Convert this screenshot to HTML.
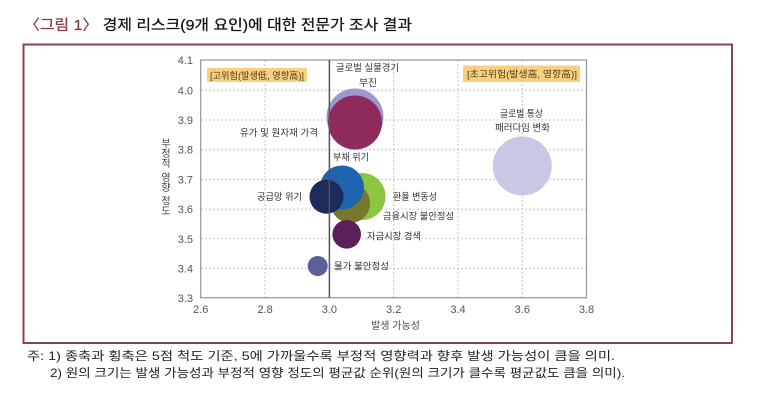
<!DOCTYPE html>
<html><head><meta charset="utf-8"><style>
html,body{margin:0;padding:0;background:#fff;}
svg{display:block;}
text{font-family:"Liberation Sans","Noto Sans CJK KR",sans-serif;}
</style></head><body>
<svg width="763" height="401" viewBox="0 0 763 401" xmlns="http://www.w3.org/2000/svg">
<rect width="763" height="401" fill="#fff"/>
<!-- title -->
<text x="24" y="30" font-size="14.5" fill="#111" stroke="#111" stroke-width="0.25" textLength="388" lengthAdjust="spacingAndGlyphs"><tspan fill="#8b3a3a" stroke="#8b3a3a">〈그림 1〉</tspan> 경제 리스크(9개 요인)에 대한 전문가 조사 결과</text>
<!-- frame -->
<rect x="23.5" y="44.5" width="708.5" height="298.5" fill="none" stroke="#8a4646" stroke-width="2"/>
<!-- grid -->
<g stroke="#c4c4c4" stroke-width="1" stroke-dasharray="2,2">
<line x1="201" y1="90.3" x2="586" y2="90.3"/>
<line x1="201" y1="120" x2="586" y2="120"/>
<line x1="201" y1="149.7" x2="586" y2="149.7"/>
<line x1="201" y1="179.4" x2="586" y2="179.4"/>
<line x1="201" y1="209.1" x2="586" y2="209.1"/>
<line x1="201" y1="238.8" x2="586" y2="238.8"/>
<line x1="201" y1="268.5" x2="586" y2="268.5"/>
<line x1="265.1" y1="60" x2="265.1" y2="297.7"/>
<line x1="393.7" y1="60" x2="393.7" y2="297.7"/>
<line x1="458" y1="60" x2="458" y2="297.7"/>
<line x1="522.3" y1="60" x2="522.3" y2="297.7"/>
</g>
<!-- plot border -->
<rect x="200.7" y="60" width="385.8" height="237.7" fill="none" stroke="#9a9a9a" stroke-width="1.3"/>
<!-- tick labels -->
<g font-size="11" fill="#555" text-anchor="end">
<text x="193" y="64">4.1</text>
<text x="193" y="94.3">4.0</text>
<text x="193" y="124">3.9</text>
<text x="193" y="153.7">3.8</text>
<text x="193" y="183.4">3.7</text>
<text x="193" y="213.1">3.6</text>
<text x="193" y="242.8">3.5</text>
<text x="193" y="272.5">3.4</text>
<text x="193" y="302">3.3</text>
</g>
<g font-size="11" fill="#555" text-anchor="middle">
<text x="200.7" y="313">2.6</text>
<text x="265.1" y="313">2.8</text>
<text x="329.4" y="313">3.0</text>
<text x="393.7" y="313">3.2</text>
<text x="458" y="313">3.4</text>
<text x="522.3" y="313">3.6</text>
<text x="586.5" y="313">3.8</text>
</g>
<!-- axis titles -->
<text x="395.5" y="329" font-size="10" fill="#444" text-anchor="middle">발생 가능성</text>
<g font-size="10" fill="#444" text-anchor="middle">
<text x="166" y="147">부</text>
<text x="166" y="157">정</text>
<text x="166" y="167">적</text>
<text x="166" y="181">영</text>
<text x="166" y="191">향</text>
<text x="166" y="204.5">정</text>
<text x="166" y="214.5">도</text>
</g>
<!-- quadrant boxes -->
<rect x="207" y="68" width="100" height="14" fill="#fbd07a"/>
<text x="210" y="78.8" font-size="9.5" fill="#4a3a28" textLength="94" lengthAdjust="spacingAndGlyphs">[고위험(발생低, 영향高)]</text>
<rect x="463" y="65.5" width="117" height="16.5" fill="#fbd07a"/>
<text x="467" y="77.5" font-size="9.5" fill="#4a3a28" textLength="110" lengthAdjust="spacingAndGlyphs">[초고위험(발생高, 영향高)]</text>
<!-- bubbles -->
<circle cx="355" cy="117" r="28.5" fill="#9b98cf"/>
<circle cx="355" cy="122.5" r="27" fill="#8e2b5c"/>
<circle cx="362" cy="196.5" r="23.5" fill="#8cc63e"/>
<circle cx="350.4" cy="203.3" r="19.7" fill="#77782e"/>
<circle cx="342" cy="187.5" r="22" fill="#1f64b0"/>
<circle cx="326.5" cy="196.7" r="17" fill="#1d2a5c"/>
<circle cx="346.7" cy="234.3" r="14.3" fill="#5b1f5c"/>
<circle cx="317.7" cy="266" r="10" fill="#5e5f96"/>
<circle cx="522.3" cy="166" r="29.5" fill="#c9c8e4"/>
<!-- vertical 3.0 line -->
<line x1="329.4" y1="60" x2="329.4" y2="297.7" stroke="#555" stroke-width="1.5"/>
<!-- labels -->
<g font-size="9.5" fill="#333">
<text x="336" y="71" textLength="63" lengthAdjust="spacingAndGlyphs">글로벌 실물경기</text>
<text x="359" y="86" textLength="18" lengthAdjust="spacingAndGlyphs">부진</text>
<text x="240" y="136" textLength="78" lengthAdjust="spacingAndGlyphs">유가 및 원자재 가격</text>
<text x="333" y="160.5" textLength="36" lengthAdjust="spacingAndGlyphs">부채 위기</text>
<text x="257" y="200" textLength="45" lengthAdjust="spacingAndGlyphs">공급망 위기</text>
<text x="393" y="200" textLength="44" lengthAdjust="spacingAndGlyphs">환율 변동성</text>
<text x="383" y="219.5" textLength="71" lengthAdjust="spacingAndGlyphs">금융시장 불안정성</text>
<text x="367" y="239.5" textLength="54" lengthAdjust="spacingAndGlyphs">자금시장 경색</text>
<text x="334" y="269.5" textLength="55" lengthAdjust="spacingAndGlyphs">물가 불안정성</text>
<text x="500" y="117" textLength="43" lengthAdjust="spacingAndGlyphs">글로벌 통상</text>
<text x="495" y="131" textLength="55" lengthAdjust="spacingAndGlyphs">패러다임 변화</text>
</g>
<!-- footnotes -->
<text x="27" y="360" font-size="12" fill="#222" textLength="588" lengthAdjust="spacingAndGlyphs">주: 1) 종축과 횡축은 5점 척도 기준, 5에 가까울수록 부정적 영향력과 향후 발생 가능성이 큼을 의미.</text>
<text x="50" y="377" font-size="12" fill="#222" textLength="575" lengthAdjust="spacingAndGlyphs">2) 원의 크기는 발생 가능성과 부정적 영향 정도의 평균값 순위(원의 크기가 클수록 평균값도 큼을 의미).</text>
</svg>
</body></html>
